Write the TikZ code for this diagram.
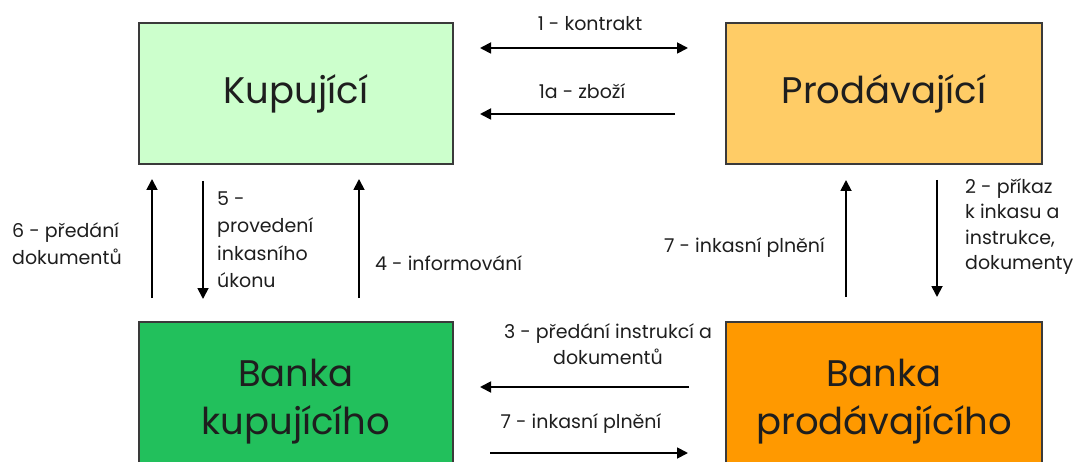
\documentclass[tikz,border=0pt]{standalone}
\usepackage{fontspec}
\setmainfont{Poppins}
\usetikzlibrary{arrows.meta,positioning}
\definecolor{kupcol}{HTML}{CCFFCC}
\definecolor{procol}{HTML}{FFCC66}
\definecolor{bkupcol}{HTML}{22C05C}
\definecolor{bprocol}{HTML}{FF9900}
\definecolor{boxline}{HTML}{3A3A3A}
\definecolor{txt}{HTML}{1E1E1E}
\begin{document}
\begin{tikzpicture}[x=1pt,y=-1pt,
  party/.style={draw=boxline,line width=1.5pt,minimum width=314pt,minimum height=141pt,
    font=\fontsize{37}{48}\selectfont,text=txt,align=center,inner sep=0pt},
  bank/.style={party,minimum height=160pt},
  lbl/.style={font=\fontsize{19}{27}\selectfont,text=txt,inner sep=0pt},
  flow/.style={line width=1.8pt,-{Triangle[length=11pt,width=11pt]}},
  both/.style={line width=1.8pt,{Triangle[length=11pt,width=11pt]}-{Triangle[length=11pt,width=11pt]}}]
\useasboundingbox (0,0) rectangle (1078,462);
\clip (0,0) rectangle (1078,462);
% the four parties
\node[party,fill=kupcol] (kup) at (296,93.5) {Kupující};
\node[party,fill=procol,minimum width=316pt] (pro) at (884,93.5) {Prodávající};
\node[bank,fill=bkupcol] (bkup) at (296,402) {Banka\\kupujícího};
\node[bank,fill=bprocol,minimum width=316pt] (bpro) at (884,402) {Banka\\prodávajícího};
% between buyer and seller
\coordinate (k1) at (480,48); \coordinate (k2) at (688,48);
\draw[both] (k1) -- (k2);
\node[lbl] (lk) at (590,24) {1 - kontrakt};
\coordinate (z1) at (675,114); \coordinate (z2) at (480,114);
\draw[flow] (z1) -- (z2);
\node[lbl] (lz) at (582,91) {1a - zboží};
% buyer side
\coordinate (d1) at (152,298); \coordinate (d2) at (152,179);
\draw[flow] (d1) -- (d2);
\node[lbl,align=left,anchor=west] (ld) at (12,243.5) {6 - předání\\dokumentů};
\coordinate (u1) at (203,181); \coordinate (u2) at (203,299);
\draw[flow] (u1) -- (u2);
\node[lbl,align=left,anchor=west,font=\fontsize{19}{27.5}\selectfont] (lu) at (217,239.5) {5 -\\provedení\\inkasního\\úkonu};
\coordinate (i1) at (359,298); \coordinate (i2) at (359,179);
\draw[flow] (i1) -- (i2);
\node[lbl,anchor=west] (li) at (375,263) {4 - informování};
% seller side
\coordinate (p1) at (846,297); \coordinate (p2) at (846,180);
\draw[flow] (p1) -- (p2);
\node[lbl,anchor=east] (lp) at (825,248) {7 - inkasní plnění};
\coordinate (r1) at (937,180); \coordinate (r2) at (937,297);
\draw[flow] (r1) -- (r2);
\node[lbl,align=left,anchor=west,font=\fontsize{19}{25.5}\selectfont] (lr) at (965,226.5) {2 - příkaz\\k inkasu a\\instrukce,\\dokumenty};
% between the banks
\coordinate (s1) at (689,387); \coordinate (s2) at (480,387);
\draw[flow] (s1) -- (s2);
\node[lbl,align=center,font=\fontsize{19}{26}\selectfont] (ls) at (608,344) {3 - předání instrukcí a\\dokumentů};
\coordinate (b1) at (490,453); \coordinate (b2) at (688,453);
\draw[flow] (b1) -- (b2);
\node[lbl] (lb) at (581,424) {7 - inkasní plnění};
\end{tikzpicture}
\end{document}
